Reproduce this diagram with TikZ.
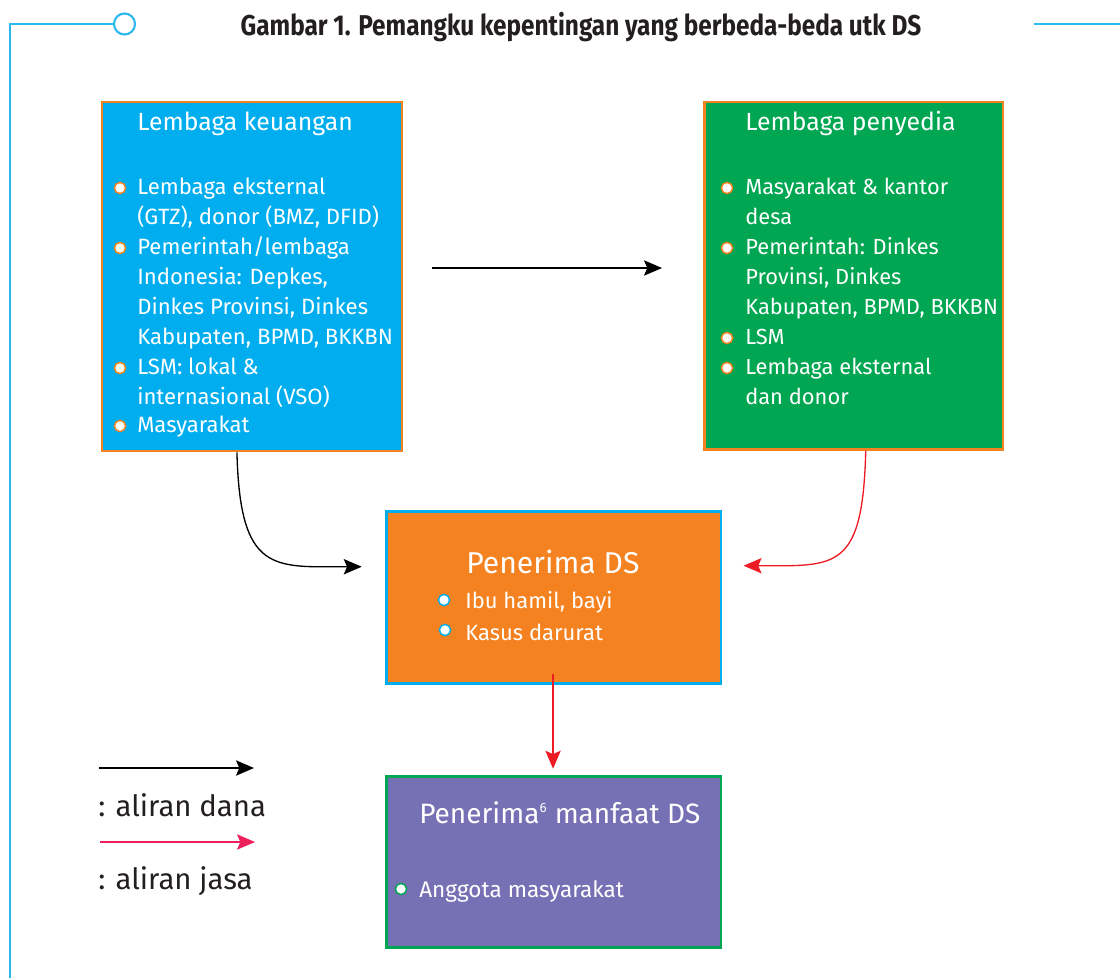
\documentclass[tikz,border=0pt]{standalone}
\usepackage{fontspec}
\setmainfont{Fira Sans}
\newfontfamily\titlefont{Fira Sans}[FakeStretch=0.85]
\usetikzlibrary{arrows.meta,fit,calc}
\definecolor{frameblue}{HTML}{2BB8EE}
\definecolor{cyanfill}{HTML}{00AEEF}
\definecolor{greenfill}{HTML}{00A651}
\definecolor{orangeC}{HTML}{F58220}
\definecolor{purplefill}{HTML}{7671B4}
\definecolor{redC}{HTML}{ED1C24}
\definecolor{pinkC}{HTML}{EC1F5A}
\definecolor{darktext}{HTML}{231F20}
\tikzset{
  frameline/.style={draw=frameblue, line width=1.6pt},
  boxbase/.style={inner sep=0pt, line width=1.9pt},
  boxA/.style={boxbase, draw=orangeC, fill=cyanfill},
  boxB/.style={boxbase, draw=orangeC, fill=greenfill},
  boxC/.style={boxbase, draw=cyanfill, fill=orangeC},
  boxD/.style={boxbase, draw=greenfill, fill=purplefill},
  txt/.style={text=white, inner sep=0pt, anchor=base west, align=left,
    font=\fontsize{16.6}{22.5}\selectfont},
  txtB/.style={txt, font=\fontsize{16.4}{22.5}\selectfont},
  hdr/.style={txt, font=\fontsize{18.6}{22.5}\selectfont},
  bigtxt/.style={txt, font=\fontsize{22.6}{26}\selectfont},
  midtxt/.style={txt, font=\fontsize{16.5}{24}\selectfont},
  legtxt/.style={text=darktext, inner sep=0pt, anchor=base west,
    font=\fontsize{22}{26}\selectfont},
  tipS/.style={-{Stealth[length=13.5pt, width=11.5pt, inset=2.5pt]}},
  fund/.style={tipS, draw=black, line width=1pt},
  serv/.style={tipS, draw=redC, line width=1pt},
  servpink/.style={tipS, draw=pinkC, line width=1pt},
  dotO/.style={draw=orangeC, fill=white, line width=1.1pt},
  dotC/.style={draw=cyanfill, fill=white, line width=1.1pt},
  dotG/.style={draw=greenfill, fill=white, line width=1.1pt},
}
\begin{document}
\begin{tikzpicture}[x=0.75pt,y=-0.75pt]
\useasboundingbox (0,0) rectangle (1120,978);
% frame
\draw[frameline] (10,978) -- (10,24) -- (114,24);
\draw[frameline] (124.5,24) circle[radius=10.5];
\draw[frameline] (1034,24) -- (1120,24);
% title
\node[anchor=base, inner sep=0pt, text=darktext, font=\titlefont\bfseries\fontsize{21.5}{24}\selectfont] (title) at (581,35) {Gambar 1. Pemangku kepentingan yang berbeda-beda utk DS};
% boxes
\node[boxA, fit={(102.2,102.2) (401.8,451)}] (b1) {};
\node[boxB, fit={(704.5,102.2) (1002.8,449.5)}] (b2) {};
\node[boxC, fit={(386.5,511.5) (720.8,683.5)}] (b3) {};
\node[boxD, fit={(386.5,776.5) (720.8,947.5)}] (b4) {};
% box 1 text (anchor = baseline of last line)
\node[hdr] (b1h) at (137,130) {Lembaga keuangan};
\node[txt] (b1i1) at (137,224) {Lembaga eksternal\\(GTZ), donor (BMZ, DFID)};
\node[txt] (b1i2) at (137,344) {Pemerintah/lembaga\\Indonesia: Depkes,\\Dinkes Provinsi, Dinkes\\Kabupaten, BPMD, BKKBN};
\node[txt] (b1i3) at (137,404) {LSM: lokal \&\\internasional (VSO)};
\node[txt] (b1i4) at (137,432) {Masyarakat};
\foreach \yy in {188,248,368,426} \draw[dotO] (120,\yy) circle[radius=5.6];
% box 2 text
\node[hdr] (b2h) at (745,130) {Lembaga penyedia};
\node[txtB] (b2i1) at (745,224) {Masyarakat \& kantor\\desa};
\node[txtB] (b2i2) at (745,314) {Pemerintah: Dinkes\\Provinsi, Dinkes\\Kabupaten, BPMD, BKKBN};
\node[txtB] (b2i3) at (745,344) {LSM};
\node[txtB] (b2i4) at (745,404) {Lembaga eksternal\\dan donor};
\foreach \yy in {188,248,338,368} \draw[dotO] (727,\yy) circle[radius=5.6];
% box 3 text
\node[bigtxt] (b3h) at (466,573) {Penerima DS};
\node[midtxt] (b3i1) at (465,608) {Ibu hamil, bayi};
\node[midtxt] (b3i2) at (465,640) {Kasus darurat};
\draw[dotC] (444,600) circle[radius=5.6];
\draw[dotC] (445,630) circle[radius=5.6];
% box 4 text
\node[bigtxt, font=\fontsize{21}{26}\selectfont] (b4h) at (419,823) {Penerima\textsuperscript{\fontsize{10}{11}\selectfont 6} manfaat DS};
\node[txt, font=\fontsize{16.9}{22.5}\selectfont] (b4i1) at (419,897) {Anggota masyarakat};
\draw[dotG] (401,889) circle[radius=5.6];
% connectors
\coordinate (h1) at (432,268);
\coordinate (h2) at (662,268);
\draw[fund] (h1) -- (h2);
\draw[fund] ($(b1.south west)+(136,0)$) .. controls +(3,122) and +(-88,0) .. ($(b3.north west)+(-23.5,56.5)$);
\draw[serv] ($(b2.south west)+(162.5,0)$) .. controls +(-3,121) and +(92,0) .. ($(b3.north east)+(21.5,55.5)$);
\draw[serv] ($(b3.south)+(-0.6,-11)$) -- ($(b4.north)+(-0.6,-6.5)$);
% legend
\coordinate (l1a) at (99,768);
\coordinate (l1b) at (254,768);
\coordinate (l2a) at (100,842);
\coordinate (l2b) at (255,842);
\draw[fund] (l1a) -- (l1b);
\draw[servpink] (l2a) -- (l2b);
\node[legtxt] (leg1) at (98,816) {: aliran dana};
\node[legtxt] (leg2) at (98,889) {: aliran jasa};
\end{tikzpicture}
\end{document}
